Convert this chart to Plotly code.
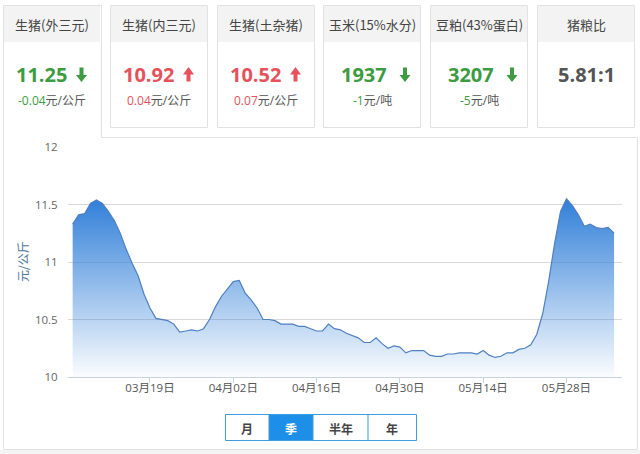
import plotly.graph_objects as go
import pandas as pd

# ---------------- data ----------------
start_date = "2018-03-06"
prices = [
    11.33, 11.41, 11.42, 11.51, 11.54, 11.51, 11.44, 11.36, 11.25, 11.11,
    10.99, 10.88, 10.72, 10.60, 10.51, 10.50, 10.49, 10.46, 10.39, 10.40,
    10.41, 10.40, 10.42, 10.50, 10.61, 10.70, 10.77, 10.83, 10.84, 10.73,
    10.67, 10.60, 10.50, 10.50, 10.49, 10.46, 10.46, 10.46, 10.44, 10.44,
    10.42, 10.40, 10.40, 10.46, 10.42, 10.41, 10.38, 10.36, 10.34, 10.30,
    10.30, 10.34, 10.29, 10.25, 10.27, 10.26, 10.21, 10.23, 10.23, 10.23,
    10.19, 10.18, 10.18, 10.20, 10.20, 10.21, 10.21, 10.21, 10.20, 10.23,
    10.19, 10.17, 10.18, 10.21, 10.21, 10.24, 10.25, 10.28, 10.37, 10.55,
    10.83, 11.16, 11.44, 11.55, 11.49, 11.41, 11.31, 11.33, 11.30, 11.29,
    11.30, 11.25,
]
dates = pd.date_range(start_date, periods=len(prices), freq="D")

y_ticks = [10, 10.5, 11, 11.5, 12]
y_title = "元/公斤"
x_tick0 = "2018-03-19"

card_titles = ["生猪(外三元)", "生猪(内三元)", "生猪(土杂猪)", "玉米(15%水分)", "豆粕(43%蛋白)", "猪粮比"]
card_values = ["11.25", "10.92", "10.52", "1937", "3207", "5.81:1"]
card_changes = ["-0.04", "0.04", "0.07", "-1", "-5", ""]
card_units = ["元/公斤", "元/公斤", "元/公斤", "元/吨", "元/吨", ""]
card_dirs = ["down", "up", "up", "down", "down", None]

range_buttons = ["月", "季", "半年", "年"]
active_button = 1

# ---------------- layout helpers ----------------
W, H = 640, 454
L, R, T, B = 68, 18, 147, 77
PW, PH = W - L - R, H - T - B


def px(x):
    return (x - L) / PW


def py(y):
    return (H - B - y) / PH


GREEN = "#3d9b41"
RED = "#e5525c"
DARK = "#555555"
BORDER = "#e2e2e2"
HEADER_BG = "#f3f3f3"
FONT = "Open Sans, Noto Sans CJK SC, sans-serif"
CJK = "Noto Sans CJK SC, sans-serif"

fig = go.Figure()

fig.add_trace(go.Scatter(
    x=dates, y=prices, mode="lines",
    line=dict(color="#4f80c0", width=1.2),
    fill="tozeroy",
    fillgradient=dict(type="vertical", start=10, stop=11.56,
                      colorscale=[[0, "rgba(47,126,216,0.02)"],
                                  [1, "rgba(47,126,216,1)"]]),
    hoverinfo="skip", showlegend=False,
))

shapes = []
annotations = []


def rect(x0, y0, x1, y1, fill=None, line=None, lw=1, layer="below"):
    shapes.append(dict(type="rect", xref="paper", yref="paper",
                       x0=px(x0), x1=px(x1), y0=py(y1), y1=py(y0),
                       fillcolor=fill if fill else "rgba(0,0,0,0)",
                       line=dict(color=line if line else "rgba(0,0,0,0)", width=lw if line else 0),
                       layer=layer))


def path(points, fill=None, line=None, lw=1, layer="below", closed=True):
    d = "M " + " L ".join(f"{px(x):.5f},{py(y):.5f}" for x, y in points)
    if closed:
        d += " Z"
    shapes.append(dict(type="path", xref="paper", yref="paper", path=d,
                       fillcolor=fill if fill else "rgba(0,0,0,0)",
                       line=dict(color=line if line else "rgba(0,0,0,0)", width=lw if line else 0),
                       layer=layer))


def text(x, y, s, size=12, color=DARK, family=CJK, xanchor="center", angle=0):
    annotations.append(dict(xref="paper", yref="paper", x=px(x), y=py(y), text=s,
                            showarrow=False, xanchor=xanchor, yanchor="middle",
                            textangle=angle,
                            font=dict(size=size, color=color, family=family)))


# bottom strip
rect(0, 450, 640, 454, fill="#f3f3f3")

# cards
card_x0 = [3.5, 110.5, 217.5, 323.5, 430.5, 537.5]
card_w = 97
for i, x0 in enumerate(card_x0):
    x1 = x0 + card_w
    cx = (x0 + x1) / 2
    if i == 0:
        rect(x0 + 0.5, 5.5, x1 - 0.5, 42, fill=HEADER_BG)
    else:
        rect(x0, 5.5, x1, 127.5, fill="white", line=BORDER)
        rect(x0 + 0.5, 6, x1 - 0.5, 42, fill=HEADER_BG)
    text(cx, 24.5, card_titles[i], size=13, color="#444444")
    d = card_dirs[i]
    col = GREEN if d == "down" else (RED if d == "up" else DARK)
    if d is None:
        text(cx, 74, f"<b>{card_values[i]}</b>", size=20, color=DARK, family=FONT)
    else:
        text(cx + 16.5, 74, f"<b>{card_values[i]}</b>", size=20, color=col, family=FONT, xanchor="right")
        ax0 = cx + (24 if len(card_values[i]) > 4 else 27.5)
        ax1 = ax0 + 11
        am = (ax0 + ax1) / 2
        if d == "down":
            pts = [(am - 2, 67.5), (am + 2, 67.5), (am + 2, 75), (ax1, 75), (am, 82),
                   (ax0, 75), (am - 2, 75)]
        else:
            pts = [(am - 2, 81.5), (am + 2, 81.5), (am + 2, 74.5), (ax1, 74.5), (am, 67),
                   (ax0, 74.5), (am - 2, 74.5)]
        path(pts, fill=col, layer="above")
        text(cx, 100, f"<span style='color:{col}'>{card_changes[i]}</span>{card_units[i]}",
             size=12, color=DARK, family=FONT)

# chart panel with selected first tab
path([(101.5, 5.5), (101.5, 137.5), (637.5, 137.5), (637.5, 449.5),
      (3.5, 449.5), (3.5, 5.5)], line=BORDER, closed=True)

# y axis title
text(22, 262, y_title, size=12, color="#4d759e", angle=-90)

# range buttons
bx = [225.5, 269, 313, 368, 416.5]
by0, by1 = 414.5, 440.5
for i, lab in enumerate(range_buttons):
    if i == active_button:
        rect(bx[i], by0, bx[i + 1], by1, fill="#1e8fe8")
    text((bx[i] + bx[i + 1]) / 2, 428, f"<b>{lab}</b>",
         size=12, color="white" if i == active_button else "#444444")
shapes.append(dict(type="rect", xref="paper", yref="paper",
                   x0=px(bx[0]), x1=px(bx[-1]), y0=py(by1), y1=py(by0),
                   line=dict(color="#3d9be0", width=1), fillcolor="rgba(0,0,0,0)", layer="above"))
for xv in bx[1:-1]:
    shapes.append(dict(type="line", xref="paper", yref="paper",
                       x0=px(xv), x1=px(xv), y0=py(by1), y1=py(by0),
                       line=dict(color="#3d9be0", width=1), layer="above"))

fig.update_layout(
    width=W, height=H,
    margin=dict(l=L, r=R, t=T, b=B, pad=0),
    paper_bgcolor="white", plot_bgcolor="white",
    shapes=shapes, annotations=annotations,
    showlegend=False,
    xaxis=dict(
        type="date",
        range=["2018-03-05 05:15", "2018-06-06 08:00"],
        tick0=x_tick0, dtick=14 * 86400000, tickformat="%m月%d日",
        showgrid=False, zeroline=False,
        showline=True, linecolor="#c8d3e0", linewidth=1,
        ticks="outside", ticklen=5, tickcolor="#c8d3e0",
        ticklabelstandoff=-5,
        tickfont=dict(size=11.5, color="#555555", family=FONT),
        fixedrange=True,
    ),
    yaxis=dict(
        range=[10, 12], tickvals=y_ticks,
        ticktext=[f"{v:g}" for v in y_ticks],
        showgrid=True, gridcolor="#d9d9d9", gridwidth=1,
        zeroline=False, showline=False,
        ticks="outside", ticklen=7, tickcolor="rgba(0,0,0,0)",
        tickfont=dict(size=11.5, color="#666666", family=FONT),
        fixedrange=True,
    ),
)

fig.write_html("out.html", config={"displayModeBar": False})
